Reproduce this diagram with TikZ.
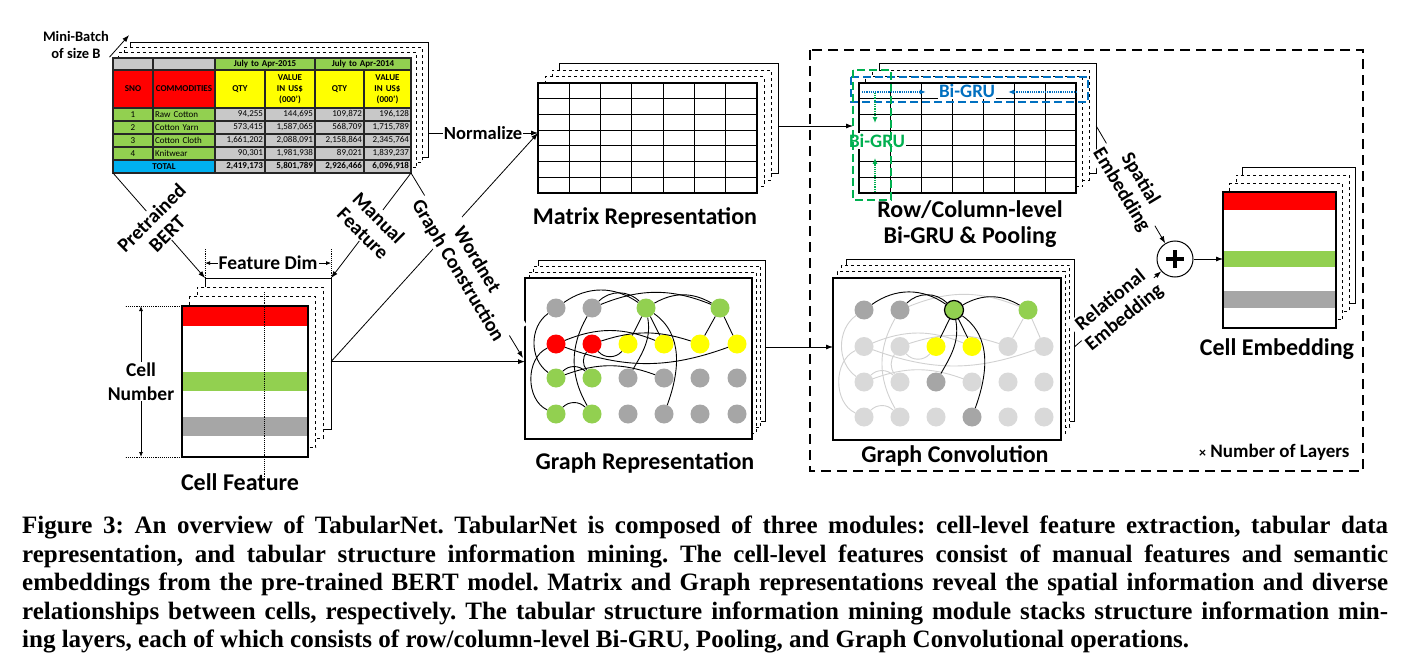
\documentclass[tikz,border=0pt]{standalone}
\usepackage{fontspec}
\setmainfont{Carlito}
\newfontfamily\capfont{Liberation Serif}
\usetikzlibrary{arrows.meta,calc}

\definecolor{xlred}{HTML}{FF0000}
\definecolor{xlgreen}{HTML}{92D050}
\definecolor{xlyellow}{HTML}{FFFF00}
\definecolor{xlgray}{HTML}{A6A6A6}
\definecolor{xlsilver}{HTML}{C8C8C8}
\definecolor{xllight}{HTML}{D9D9D9}
\definecolor{xlblue}{HTML}{00B0F0}
\definecolor{grublue}{HTML}{0070C0}
\definecolor{grugreen}{HTML}{00B050}

% stack of sheets: name, cx, cy, width, height, dx, dy (pixel y downwards)
\newcommand{\sheetstack}[7]{%
  \node[sheet,minimum width=#4,minimum height=#5] (#13) at ({#2+3*#6},{-(#3)+3*#7}) {};
  \foreach \k in {2,1}
    \node[sheet,dashed,minimum width=#4,minimum height=#5] (#1\k) at ({#2+\k*#6},{-(#3)+\k*#7}) {};
  \node[front,minimum width=#4,minimum height=#5] (#1) at (#2,{-(#3)}) {};}

% one table cell: x1, y1, x2, y2, fill, text, align
\newcommand{\tcell}[7]{%
  \draw[tline,fill=#5] (#1,{-(#2)}) rectangle (#3,{-(#4)});
  \pgfmathsetmacro\tcw{(#3)-(#1)-4}%
  \node[tfont,text width=\tcw pt,align=#7] at ({((#1)+(#3))/2},{-((#2)+(#4))/2}) {#6};}

% graph edges
\newcommand{\hotedges}{13/11/{bend right=35}, 13/12/{bend right=45}, 13/14/{bend left=30},
  13/23/{bend left=0}, 13/24/{bend left=0}, 13/33/{out=-80,in=60}, 13/44/{out=-35,in=70}}
\newcommand{\coldedges}{12/14/{bend left=22}, 14/25/{bend left=0}, 14/26/{bend left=0},
  21/24/{bend left=22}, 22/25/{bend left=18}, 21/26/{out=-20,in=200}, 22/23/{bend right=50},
  31/32/{bend left=45}, 31/34/{bend left=20}, 41/42/{bend left=45}, 11/31/{out=215,in=145},
  21/41/{out=205,in=155}, 12/42/{out=240,in=120}, 22/32/{out=235,in=125}}

\begin{document}
\begin{tikzpicture}[x=1pt,y=1pt,
  sheet/.style={draw,fill=white,inner sep=0pt,outer sep=0pt,line width=0.8pt},
  front/.style={sheet,line width=1.4pt},
  tline/.style={draw=black!85,line width=1.5pt},
  tfont/.style={inner sep=0pt,font=\fontsize{9}{11}\selectfont},
  gridline/.style={line width=0.9pt},
  arr/.style={-{Latex[length=7pt,width=5pt]},line width=0.8pt},
  dimarr/.style={{Latex[length=5pt,width=4pt]}-{Latex[length=5pt,width=4pt]},line width=0.8pt},
  gruarr/.style={-{Latex[length=6pt,width=5pt]},densely dotted,line width=1.2pt},
  lbl/.style={font=\bfseries\fontsize{24}{26}\selectfont,align=center},
  rlbl/.style={font=\bfseries\fontsize{20}{22}\selectfont,align=center,fill=white,inner sep=1pt},
  gnode/.style={circle,minimum size=19pt,inner sep=0pt},
  edge/.style={line width=0.9pt},
  curve/.style={#1}]
\fill[white] (0,0) rectangle (1409,-666);
\useasboundingbox (0,0) rectangle (1409,-666);

% input table
\sheetstack{tab}{262}{115.5}{298}{115}{5.7}{5.3}
\tcell{113}{58}{153}{70}{xlsilver}{}{center}
\tcell{153}{58}{215}{70}{xlsilver}{}{center}
\tcell{215}{58}{315}{70}{xlgreen}{\bfseries July to Apr-2015}{center}
\tcell{315}{58}{411}{70}{xlgreen}{\bfseries July to Apr-2014}{center}
\tcell{113}{70}{153}{108}{xlred}{\bfseries SNO}{center}
\tcell{153}{70}{215}{108}{xlred}{\bfseries COMMODITIES}{center}
\tcell{215}{70}{265}{108}{xlyellow}{\bfseries QTY}{center}
\tcell{265}{70}{315}{108}{xlyellow}{\bfseries VALUE\\IN US\$\\(000')}{center}
\tcell{315}{70}{364}{108}{xlyellow}{\bfseries QTY}{center}
\tcell{364}{70}{411}{108}{xlyellow}{\bfseries VALUE\\IN US\$\\(000')}{center}
\foreach \n/\item/\qa/\va/\qb/\vb [count=\i from 0] in {1/Raw Cotton/{94,255}/{144,695}/{109,872}/{196,128},
    2/Cotton Yarn/{573,415}/{1,587,065}/{568,709}/{1,715,789},
    3/Cotton Cloth/{1,661,202}/{2,088,091}/{2,158,864}/{2,345,764},
    4/Knitwear/{90,301}/{1,981,938}/{89,021}/{1,839,237}} {
  \pgfmathsetmacro\ya{108+13*\i}
  \pgfmathsetmacro\yb{121+13*\i}
  \tcell{113}{\ya}{153}{\yb}{xlgreen}{\n}{center}
  \tcell{153}{\ya}{215}{\yb}{xlgreen}{\item}{left}
  \tcell{215}{\ya}{265}{\yb}{xlsilver}{\qa}{right}
  \tcell{265}{\ya}{315}{\yb}{xlsilver}{\va}{right}
  \tcell{315}{\ya}{364}{\yb}{xlsilver}{\qb}{right}
  \tcell{364}{\ya}{411}{\yb}{xlsilver}{\vb}{right}
}
\tcell{113}{160}{215}{173}{xlblue}{\bfseries TOTAL}{center}
\tcell{215}{160}{265}{173}{xlsilver}{\bfseries 2,419,173}{right}
\tcell{265}{160}{315}{173}{xlsilver}{\bfseries 5,801,789}{right}
\tcell{315}{160}{364}{173}{xlsilver}{\bfseries 2,926,466}{right}
\tcell{364}{160}{411}{173}{xlsilver}{\bfseries 6,096,918}{right}

\node[font=\bfseries\fontsize{14.5}{17}\selectfont,align=center] (mb) at (76,-45) {Mini-Batch\\of size B};
\draw[arr] ($(mb.south east)+(-3,5)$) -- ($(tab3.north west)+(-1,7)$);

% cell feature
\sheetstack{cf}{245}{381.5}{126}{151}{7.7}{9.3}
\fill[xlred] (182,-306) rectangle (308,-326);
\fill[xlgreen] (182,-372) rectangle (308,-391);
\fill[xlgray] (182,-417) rectangle (308,-436);
\draw[line width=1.4pt] (cf.north west) rectangle (cf.south east);
\draw[densely dotted,line width=0.9pt] (264,-292) -- (264,-481);
\draw[densely dotted,line width=0.9pt] (cf3.north west) -- ++(0,30);
\draw[densely dotted,line width=0.9pt] (cf3.north east) -- ++(0,30);
\draw[dimarr] ($(cf3.north west)+(0,15)$) -- node[rlbl,font=\bfseries\fontsize{19.5}{21}\selectfont] {Feature Dim} ($(cf3.north east)+(0,15)$);
\draw[densely dotted,line width=0.9pt] (cf.north west) -- ++(-57,0);
\draw[densely dotted,line width=0.9pt] (cf.south west) -- ++(-57,0);
\draw[dimarr] ($(cf.north west)+(-41,0)$) -- node[rlbl,font=\bfseries\fontsize{19.5}{24}\selectfont] {Cell\\Number} ($(cf.south west)+(-41,0)$);
\node[lbl] (cflbl) at (240,-482) {Cell Feature};

% matrix representation
\sheetstack{mat}{647.5}{138}{219}{110}{7}{6.4}
\foreach \i in {1,...,6} {
  \draw[gridline] ($(mat.north west)+({\i*219/7},0)$) -- ($(mat.south west)+({\i*219/7},0)$);
  \draw[gridline] ($(mat.north west)+(0,{-\i*110/7})$) -- ($(mat.north east)+(0,{-\i*110/7})$);
}
\node[lbl] (matlbl) at (645,-218) {Matrix Representation};

% graph representation
\sheetstack{gr}{638.5}{358.5}{227}{161}{4.4}{6}
\node[gnode,fill=xlgray] (r11) at (556,-308) {};
\node[gnode,fill=xlgray] (r12) at (592,-308) {};
\node[gnode,fill=xlgreen] (r13) at (646,-308) {};
\node[gnode,fill=xlgreen] (r14) at (720,-308) {};
\foreach \c/\x/\ctwo/\cthree in {1/556/xlred/xlgreen, 2/592/xlred/xlgreen, 3/628/xlyellow/xlgray,
    4/664/xlyellow/xlgray, 5/700/xlyellow/xlgray, 6/737/xlyellow/xlgray} {
  \node[gnode,fill=\ctwo] (r2\c) at (\x,-344) {};
  \node[gnode,fill=\cthree] (r3\c) at (\x,-378) {};
  \node[gnode,fill=\cthree] (r4\c) at (\x,-414) {};
}
\foreach \a/\b/\how in \coldedges {\draw[edge] (r\a) to[curve/.expanded=\how] (r\b);}
\foreach \a/\b/\how in \hotedges {\draw[edge] (r\a) to[curve/.expanded=\how] (r\b);}
\node[lbl] (grlbl) at (645,-463) {Graph Representation};

% structure information mining module
\draw[dash pattern=on 10pt off 6pt,line width=1.3pt] (810,-50) rectangle (1363,-471);

% row/column-level Bi-GRU
\sheetstack{rc}{967.5}{138}{217}{110}{6.7}{6.4}
\foreach \i in {1,...,6} {
  \draw[gridline] ($(rc.north west)+({\i*217/7},0)$) -- ($(rc.south west)+({\i*217/7},0)$);
  \draw[gridline] ($(rc.north west)+(0,{-\i*110/7})$) -- ($(rc.north east)+(0,{-\i*110/7})$);
}
\node[font=\bfseries\fontsize{19}{20}\selectfont,text=grublue,fill=white,inner sep=1pt] (rowgru) at (967,-91) {Bi-GRU};
\node[font=\bfseries\fontsize{19}{20}\selectfont,text=grugreen,fill=white,inner sep=1pt] (colgru) at (877,-141) {Bi-GRU};
\draw[line width=1.4pt] (rc.north west) -- (rc.north east);
\draw[grublue,dash pattern=on 8pt off 4pt,line width=1.6pt] (851,-77) rectangle (1088,-102);
\draw[grugreen,dash pattern=on 8pt off 4pt,line width=1.6pt] (853,-70) rectangle (891,-200);
\draw[gruarr,grublue] (862,-92) -- ($(rowgru.west)+(-12,-1)$);
\draw[gruarr,grublue] (1077,-92) -- ($(rowgru.east)+(12,-1)$);
\draw[gruarr,grugreen] (875,-93) -- ($(colgru.north -| 875,0)+(0,10)$);
\draw[gruarr,grugreen] (875,-192) -- ($(colgru.south -| 875,0)+(0,-9)$);
\node[lbl] (rclbl) at (970,-224) {Row/Column-level\\Bi-GRU \& Pooling};

% graph convolution
\sheetstack{gc}{947}{359}{228}{162}{4.4}{6.3}
\node[gnode,fill=xlgray] (c11) at (864,-310) {};
\node[gnode,fill=xlgray] (c12) at (900,-310) {};
\node[gnode,fill=xlgreen,draw=black,line width=1.2pt] (c13) at (954,-310) {};
\node[gnode,fill=xlgreen] (c14) at (1028,-310) {};
\foreach \c/\x/\ctwo/\cthree/\cfour in {1/864/xllight/xllight/xllight, 2/900/xllight/xllight/xllight,
    3/936/xlyellow/xlgray/xllight, 4/972/xlyellow/xllight/xlgray, 5/1008/xllight/xllight/xllight,
    6/1044/xllight/xllight/xllight} {
  \node[gnode,fill=\ctwo] (c2\c) at (\x,-346.5) {};
  \node[gnode,fill=\cthree] (c3\c) at (\x,-382) {};
  \node[gnode,fill=\cfour] (c4\c) at (\x,-417) {};
}
\foreach \a/\b/\how in \coldedges {\draw[edge,black!18] (c\a) to[curve/.expanded=\how] (c\b);}
\foreach \a/\b/\how in \hotedges {\draw[edge] (c\a) to[curve/.expanded=\how] (c\b);}
\node[lbl] (gclbl) at (955,-456) {Graph Convolution};

% cell embedding
\sheetstack{emb}{1279.5}{260}{113}{136}{6.5}{8.3}
\fill[xlred] (1223,-192) rectangle (1336,-210);
\fill[xlgreen] (1223,-251) rectangle (1336,-267);
\fill[xlgray] (1223,-291) rectangle (1336,-308);
\draw[line width=1.4pt] (emb.north west) rectangle (emb.south east);
\node[lbl] (emblbl) at (1277,-349) {Cell Embedding};
\node[circle,draw,line width=1pt,minimum size=36pt,inner sep=0pt] (plus) at (1175,-259) {};
\draw[line width=3.5pt] ($(plus)+(-9,0)$) -- ($(plus)+(9,0)$);
\draw[line width=3.5pt] ($(plus)+(0,-9)$) -- ($(plus)+(0,9)$);
\node[font=\bfseries\fontsize{19}{20}\selectfont,anchor=east] (layers) at (1353,-452)
  {{\fontsize{14}{14}\selectfont×}\ Number of Layers};

% connectors
\coordinate (matin) at ($(mat.west)+(0,5)$);
\coordinate (cfout) at ($(cf3.east)+(0,-8)$);
\coordinate (grin) at ($(gr.west)+(-2,0.5)$);
\coordinate (rcin) at ($(rc.west)+(-6,12)$);
\coordinate (gcin) at ($(gc.west)+(0,12)$);
\coordinate (rcout) at ($(rc3.east)+(0,-7)$);
\coordinate (gcout) at ($(gc3.east)+(0,-7)$);
\draw[arr] (cfout) -- (matin);
\draw[arr] (cfout) -- (cfout -| gr.west);
\draw[arr] (tab3.east |- matin) -- node[rlbl,font=\bfseries\fontsize{18.5}{20}\selectfont] {Normalize} (matin);
\draw[arr] (tab.south west) -- node[rlbl,rotate=45] {Pretrained\\BERT} (cf3.north west);
\draw[arr] (tab.south east) -- node[rlbl,rotate=-45] {Manual\\Feature} (cf3.north east);
\draw[arr] (tab.south east) -- node[rlbl,rotate=-59] {Wordnet\\Graph Construction} (grin);
\draw[arr] (mat3.east |- rcin) -- (rcin);
\draw[arr] (gr3.east |- gcin) -- (gcin);
\draw[arr] (rcout) -- node[rlbl,rotate=-59] {Spatial\\Embedding} (plus.122);
\draw[arr] (gcout) -- node[rlbl,rotate=39] {Relational\\Embedding} (plus.222);
\draw[arr] (plus.east) -- (plus.east -| emb.west);

% caption
\node[anchor=north west,align=left,inner sep=0pt,font=\capfont\bfseries\fontsize{25}{28.5}\selectfont\frenchspacing] (caption) at (22,-516) {%
\makebox[1366pt][s]{Figure 3: An overview of TabularNet. TabularNet is composed of three modules: cell-level feature extraction, tabular data}\\
\makebox[1366pt][s]{representation, and tabular structure information mining. The cell-level features consist of manual features and semantic}\\
\makebox[1366pt][s]{embeddings from the pre-trained BERT model. Matrix and Graph representations reveal the spatial information and diverse}\\
\makebox[1366pt][s]{relationships between cells, respectively. The tabular structure information mining module stacks structure information min-}\\
ing layers, each of which consists of row/column-level Bi-GRU, Pooling, and Graph Convolutional operations.};
\end{tikzpicture}
\end{document}
